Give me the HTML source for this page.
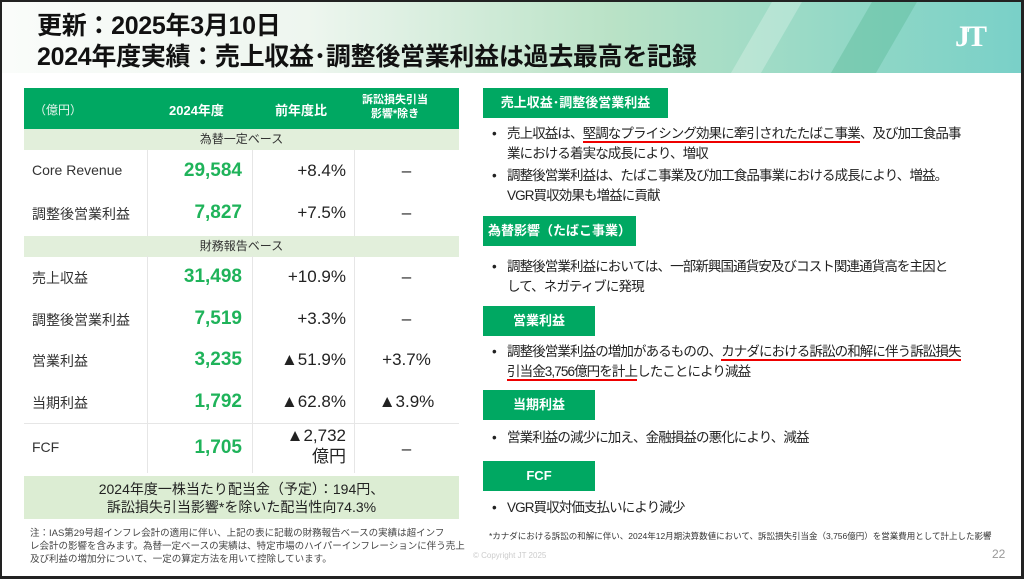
<!DOCTYPE html>
<html><head><meta charset="utf-8"><style>
*{margin:0;padding:0;box-sizing:border-box}
body{width:1024px;height:579px;overflow:hidden;background:#fff;font-family:"Liberation Sans","Noto Sans CJK JP",sans-serif;position:relative;color:#222}
.frame{position:absolute;left:0;top:0;width:1024px;height:579px;border:2px solid #222;border-right-width:3px;border-bottom-width:3px;z-index:10;pointer-events:none}
.hdr{position:absolute;left:0;top:0;width:1024px;height:73px;background:linear-gradient(90deg,#fafcfa 0%,#eef6ef 30%,#b9e2c6 60%,#8fd7c6 85%,#79d0c8 100%);overflow:hidden}
.stripe{position:absolute;top:-10px;width:40px;height:100px;background:rgba(80,180,140,.35);transform:skewX(-30deg)}
.title{position:absolute;left:37px;font-weight:bold;font-size:25px;color:#111;white-space:nowrap;letter-spacing:-0.3px}
.jt{position:absolute;left:955px;top:20px;color:#fff;font-family:"Liberation Serif",serif;font-weight:bold;font-size:30px;letter-spacing:-3px}
.abs{position:absolute;white-space:nowrap}
.th{position:absolute;top:88px;left:24px;width:435px;height:41px;background:#00a862;color:#fff}
.sub{position:absolute;left:24px;width:435px;height:21px;background:#e2efdb;font-size:12px;text-align:center;line-height:21px;color:#333}
.vl{position:absolute;width:1px;background:#e6e6e6}
.lab{position:absolute;left:32px;font-size:14px;color:#333}
.num{position:absolute;right:782px;font-size:19px;font-weight:bold;color:#1fb35a;text-align:right}
.pct{position:absolute;right:678px;font-size:17px;color:#222;text-align:right}
.ex{position:absolute;left:354px;width:105px;text-align:center;font-size:17px;color:#222}
.box{position:absolute;left:483px;height:30px;background:#00a862;color:#fff;font-weight:bold;font-size:13px;line-height:30px;text-align:center}
.b{position:absolute;left:492px;font-size:13.5px;letter-spacing:-0.9px;line-height:20px;color:#222;white-space:nowrap}
.b span.d{position:absolute;left:0}
.b div{padding-left:15px}
.u{border-bottom:2px solid #e00}
</style></head><body>
<div class="hdr">
<div class="stripe" style="left:750px;width:30px;background:rgba(255,255,255,.25)"></div>
<div class="stripe" style="left:850px;width:45px"></div>
</div>
<div class="title" style="top:6px">更新：2025年3月10日</div>
<div class="title" style="top:37px">2024年度実績：売上収益･調整後営業利益は過去最高を記録</div>
<div class="jt">JT</div>

<div class="th">
<div class="abs" style="left:10px;top:13px;font-size:12px;color:#e8f5ee">（億円）</div>
<div class="abs" style="left:145px;top:12px;font-size:13px;font-weight:bold">2024年度</div>
<div class="abs" style="left:251px;top:12px;font-size:13px;font-weight:bold">前年度比</div>
<div class="abs" style="left:338px;top:5px;font-size:11px;font-weight:bold;text-align:center;line-height:14px">訴訟損失引当<br>影響*除き</div>
</div>
<div class="sub" style="top:129px">為替一定ベース</div>
<div class="sub" style="top:236px">財務報告ベース</div>
<div class="vl" style="left:147px;top:150px;height:86px"></div>
<div class="vl" style="left:252px;top:150px;height:86px"></div>
<div class="vl" style="left:354px;top:150px;height:86px"></div>
<div class="vl" style="left:147px;top:256px;height:217px"></div>
<div class="vl" style="left:252px;top:256px;height:217px"></div>
<div class="vl" style="left:354px;top:256px;height:217px"></div>
<div class="abs" style="left:24px;top:423px;width:435px;height:1px;background:#e6e6e6"></div>

<div class="lab" style="top:162px">Core Revenue</div><div class="num" style="top:160px">29,584</div><div class="pct" style="top:161px">+8.4%</div><div class="ex" style="top:161px">–</div>
<div class="lab" style="top:204px">調整後営業利益</div><div class="num" style="top:202px">7,827</div><div class="pct" style="top:203px">+7.5%</div><div class="ex" style="top:203px">–</div>
<div class="lab" style="top:268px">売上収益</div><div class="num" style="top:266px">31,498</div><div class="pct" style="top:267px">+10.9%</div><div class="ex" style="top:267px">–</div>
<div class="lab" style="top:310px">調整後営業利益</div><div class="num" style="top:308px">7,519</div><div class="pct" style="top:309px">+3.3%</div><div class="ex" style="top:309px">–</div>
<div class="lab" style="top:351px">営業利益</div><div class="num" style="top:349px">3,235</div><div class="pct" style="top:350px">▲51.9%</div><div class="ex" style="top:350px">+3.7%</div>
<div class="lab" style="top:393px">当期利益</div><div class="num" style="top:391px">1,792</div><div class="pct" style="top:392px">▲62.8%</div><div class="ex" style="top:392px">▲3.9%</div>
<div class="lab" style="top:439px">FCF</div><div class="num" style="top:437px">1,705</div><div class="pct" style="top:425px;line-height:21px">▲2,732<br>億円</div><div class="ex" style="top:439px">–</div>

<div class="abs" style="left:24px;top:476px;width:435px;height:43px;background:#dcedd3;text-align:center;font-size:14px;line-height:18px;padding-top:4px;color:#222">2024年度一株当たり配当金（予定）：194円、<br>訴訟損失引当影響*を除いた配当性向74.3%</div>
<div class="abs" style="left:30px;top:527px;font-size:9.5px;line-height:13px;color:#444">注：IAS第29号超インフレ会計の適用に伴い、上記の表に記載の財務報告ベースの実績は超インフ<br>レ会計の影響を含みます。為替一定ベースの実績は、特定市場のハイパーインフレーションに伴う売上<br>及び利益の増加分について、一定の算定方法を用いて控除しています。</div>

<div class="box" style="top:88px;width:185px">売上収益･調整後営業利益</div>
<div class="b" style="top:124px"><span class="d">•</span><div>売上収益は、<span class="u">堅調なプライシング効果に牽引されたたばこ事業</span>、及び加工食品事<br>業における着実な成長により、増収</div></div>
<div class="b" style="top:166px"><span class="d">•</span><div>調整後営業利益は、たばこ事業及び加工食品事業における成長により、増益。<br>VGR買収効果も増益に貢献</div></div>
<div class="box" style="top:216px;width:153px">為替影響（たばこ事業）</div>
<div class="b" style="top:257px"><span class="d">•</span><div>調整後営業利益においては、一部新興国通貨安及びコスト関連通貨高を主因と<br>して、ネガティブに発現</div></div>
<div class="box" style="top:306px;width:112px">営業利益</div>
<div class="b" style="top:342px"><span class="d">•</span><div>調整後営業利益の増加があるものの、<span class="u">カナダにおける訴訟の和解に伴う訴訟損失<br>引当金3,756億円を計上</span>したことにより減益</div></div>
<div class="box" style="top:390px;width:112px">当期利益</div>
<div class="b" style="top:428px"><span class="d">•</span><div>営業利益の減少に加え、金融損益の悪化により、減益</div></div>
<div class="box" style="top:461px;width:112px">FCF</div>
<div class="b" style="top:498px"><span class="d">•</span><div>VGR買収対価支払いにより減少</div></div>
<div class="abs" style="left:489px;top:530px;font-size:8.5px;color:#333">*カナダにおける訴訟の和解に伴い、2024年12月期決算数値において、訴訟損失引当金（3,756億円）を営業費用として計上した影響</div>
<div class="abs" style="left:473px;top:551px;font-size:8px;color:#ccc">© Copyright JT 2025</div>
<div class="abs" style="left:992px;top:547px;font-size:12px;color:#999">22</div>
<div class="frame"></div>
</body></html>
